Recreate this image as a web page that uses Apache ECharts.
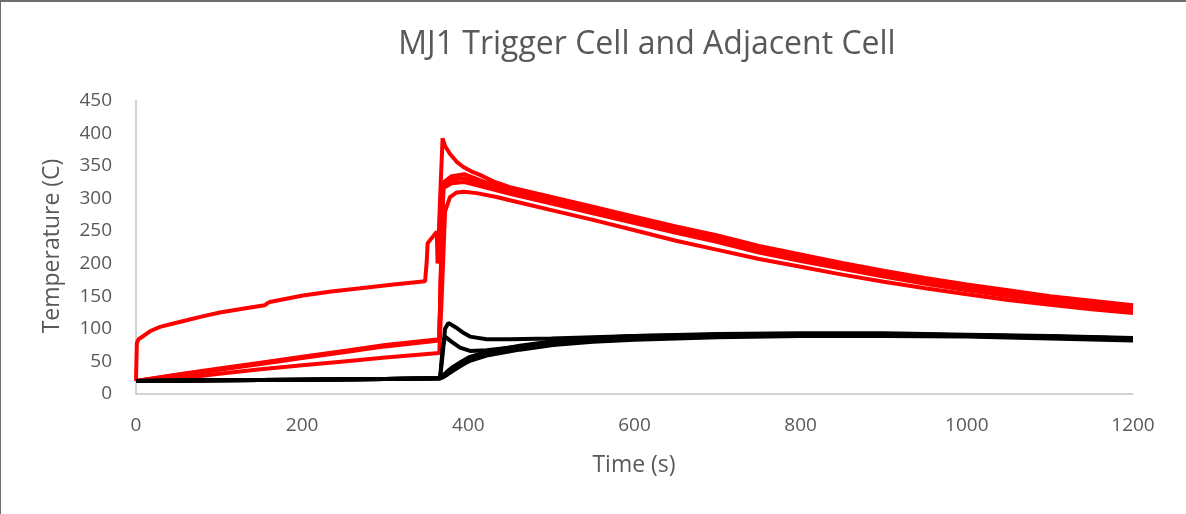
<!DOCTYPE html>
<html>
<head>
<meta charset="utf-8">
<script src="https://cdn.jsdelivr.net/npm/echarts@6/dist/echarts.min.js"></script>
<style>
html,body{margin:0;padding:0;background:#fff;}
#frame{position:absolute;left:0;top:0;width:1186px;height:514px;box-sizing:border-box;border-top:2px solid #6e6e6e;border-left:1px solid #6e6e6e;}
#chart{position:absolute;left:0;top:0;width:1186px;height:514px;}
</style>
</head>
<body>
<div id="chart"></div>
<div id="frame"></div>
<script>
// ---- Data (time s, temperature C) ----
const titleText = "MJ1 Trigger Cell and Adjacent Cell";
const xName = "Time (s)";
const yName = "Temperature (C)";
const xTicks = [0, 200, 400, 600, 800, 1000, 1200];
const yTicks = [0, 50, 100, 150, 200, 250, 300, 350, 400, 450];

// Trigger cell (red)
const trigger1 = [[0,20],[1,78],[3,84],[9,89],[18,97],[29,103],[45,108],[61,113],[80,119],[101,125],[130,131],[155,136],[158,139],[161,141],[201,151],[235,157],[270,162],[310,168],[348,173],[350,205],[351,231],[356,239],[362,249],[363,200],[365,200],[366,300],[369,392],[372,380],[378,368],[386,356],[394,348],[404,341],[414,336],[430,326],[450,317],[500,302],[550,287],[600,272],[650,257],[700,243],[750,227],[800,214],[850,201],[900,189],[950,178],[1000,168],[1050,159],[1100,150],[1150,143],[1200,136]];
const trigger2 = [[0,20],[50,30],[100,39],[150,48],[200,57],[250,66],[300,75],[365,84],[368,250],[370,324],[380,334],[395,337],[420,325],[450,314],[500,299],[550,284],[600,269],[650,254],[700,240],[750,224],[800,211],[850,199],[900,187],[950,176],[1000,166],[1050,157],[1100,149],[1150,142],[1200,135]];
const trigger3 = [[0,20],[50,29],[100,38],[150,47],[200,56],[250,65],[300,74],[365,83],[368,240],[370,320],[380,329],[395,331],[420,321],[450,310],[500,295],[550,280],[600,265],[650,250],[700,236],[750,220],[800,207],[850,195],[900,183],[950,172],[1000,162],[1050,153],[1100,145],[1150,138],[1200,131]];
const trigger4 = [[0,20],[50,28],[100,37],[150,46],[200,55],[250,64],[300,73],[365,82],[368,230],[370,316],[380,323],[395,325],[420,317],[450,307],[500,292],[550,277],[600,262],[650,247],[700,233],[750,217],[800,204],[850,192],[900,180],[950,169],[1000,159],[1050,150],[1100,142],[1150,135],[1200,129]];
const trigger5 = [[0,20],[30,21],[60,25],[100,31],[150,38],[200,44],[250,50],[300,56],[365,63],[368,150],[372,280],[378,302],[386,309],[395,310],[410,308],[434,302],[450,297],[500,282],[550,267],[600,251],[650,235],[700,221],[750,207],[800,195],[850,183],[900,172],[950,162],[1000,153],[1050,144],[1100,137],[1150,130],[1200,124]];

// Adjacent cell (black)
const adjacent1 = [[0,20],[100,21],[200,22],[300,23],[366,24],[369,60],[372,100],[376,109],[385,102],[395,93],[402,88],[422,84],[450,84],[500,85],[550,87],[600,89],[700,91],[800,92],[900,92],[1000,90],[1100,88],[1200,85]];
const adjacent2 = [[0,20],[100,21],[200,22],[300,23],[366,24],[369,70],[372,88],[380,80],[390,71],[402,66],[422,67],[462,73],[502,79],[550,84],[600,87],[700,90],[800,92],[900,92],[1000,90],[1100,88],[1200,85]];
const adjacent3 = [[0,20],[100,21],[200,22],[300,23],[366,24],[370,29],[375,35],[382,42],[392,50],[402,57],[422,65],[462,74],[502,81],[550,86],[600,89],[700,92],[800,93],[900,93],[1000,91],[1100,89],[1200,86]];
const adjacent4 = [[0,20],[100,21],[200,22],[300,23],[366,24],[370,27],[375,32],[382,39],[392,47],[402,54],[422,62],[462,71],[502,78],[550,83],[600,86],[700,89],[800,91],[900,91],[1000,89],[1100,87],[1200,84]];
const adjacent5 = [[0,20],[100,21],[200,22],[300,23],[366,24],[370,26],[375,30],[382,36],[392,44],[402,51],[422,59],[462,68],[502,75],[550,80],[600,83],[700,87],[800,89],[900,89],[1000,88],[1100,85],[1200,82]];

const redSeries = [trigger1, trigger2, trigger3, trigger4, trigger5];
const blackSeries = [adjacent1, adjacent2, adjacent3, adjacent4, adjacent5];

const chart = echarts.init(document.getElementById('chart'), null, {renderer: 'canvas'});
const FONT = '"Open Sans", "Noto Sans", sans-serif';
const series = [];
redSeries.forEach((d, i) => series.push({
  type: 'line', name: 'Trigger ' + (i + 1), data: d, showSymbol: false, symbol: 'none',
  lineStyle: {color: '#ff0000', width: 4}, itemStyle: {color: '#ff0000'}, smooth: false, z: 2
}));
blackSeries.forEach((d, i) => series.push({
  type: 'line', name: 'Adjacent ' + (i + 1), data: d, showSymbol: false, symbol: 'none',
  lineStyle: {color: '#000000', width: 4}, itemStyle: {color: '#000000'}, smooth: false, z: 3
}));

chart.setOption({
  animation: false,
  backgroundColor: '#ffffff',
  title: {
    text: titleText, left: 642, top: 24, textAlign: 'center',
    textStyle: {fontFamily: FONT, fontSize: 32, fontWeight: 'normal', color: '#595959'}
  },
  grid: {left: 136, right: 53, top: 100.5, bottom: 120, containLabel: false},
  xAxis: {
    type: 'value', min: xTicks[0], max: xTicks[xTicks.length - 1], interval: 200,
    axisLine: {show: true, lineStyle: {color: '#c4c4c4', width: 1.5}},
    axisTick: {show: false}, splitLine: {show: false},
    axisLabel: {fontFamily: FONT, fontSize: 19, color: '#595959', margin: 22, formatter: v => String(v)}
  },
  yAxis: {
    type: 'value', min: yTicks[0], max: yTicks[yTicks.length - 1], interval: 50,
    axisLine: {show: true, lineStyle: {color: '#c4c4c4', width: 1.5}},
    axisTick: {show: false}, splitLine: {show: false},
    axisLabel: {fontFamily: FONT, fontSize: 19, color: '#595959', margin: 24, formatter: v => String(v)}
  },
  graphic: [
    {type: 'text', x: 634, y: 465, style: {text: xName, font: '23px ' + FONT, fill: '#595959', align: 'center', verticalAlign: 'middle'}},
    {type: 'text', x: 52, y: 246, rotation: Math.PI / 2, style: {text: yName, font: '23px ' + FONT, fill: '#595959', align: 'center', verticalAlign: 'middle'}}
  ],
  series: series
});
</script>
</body>
</html>
